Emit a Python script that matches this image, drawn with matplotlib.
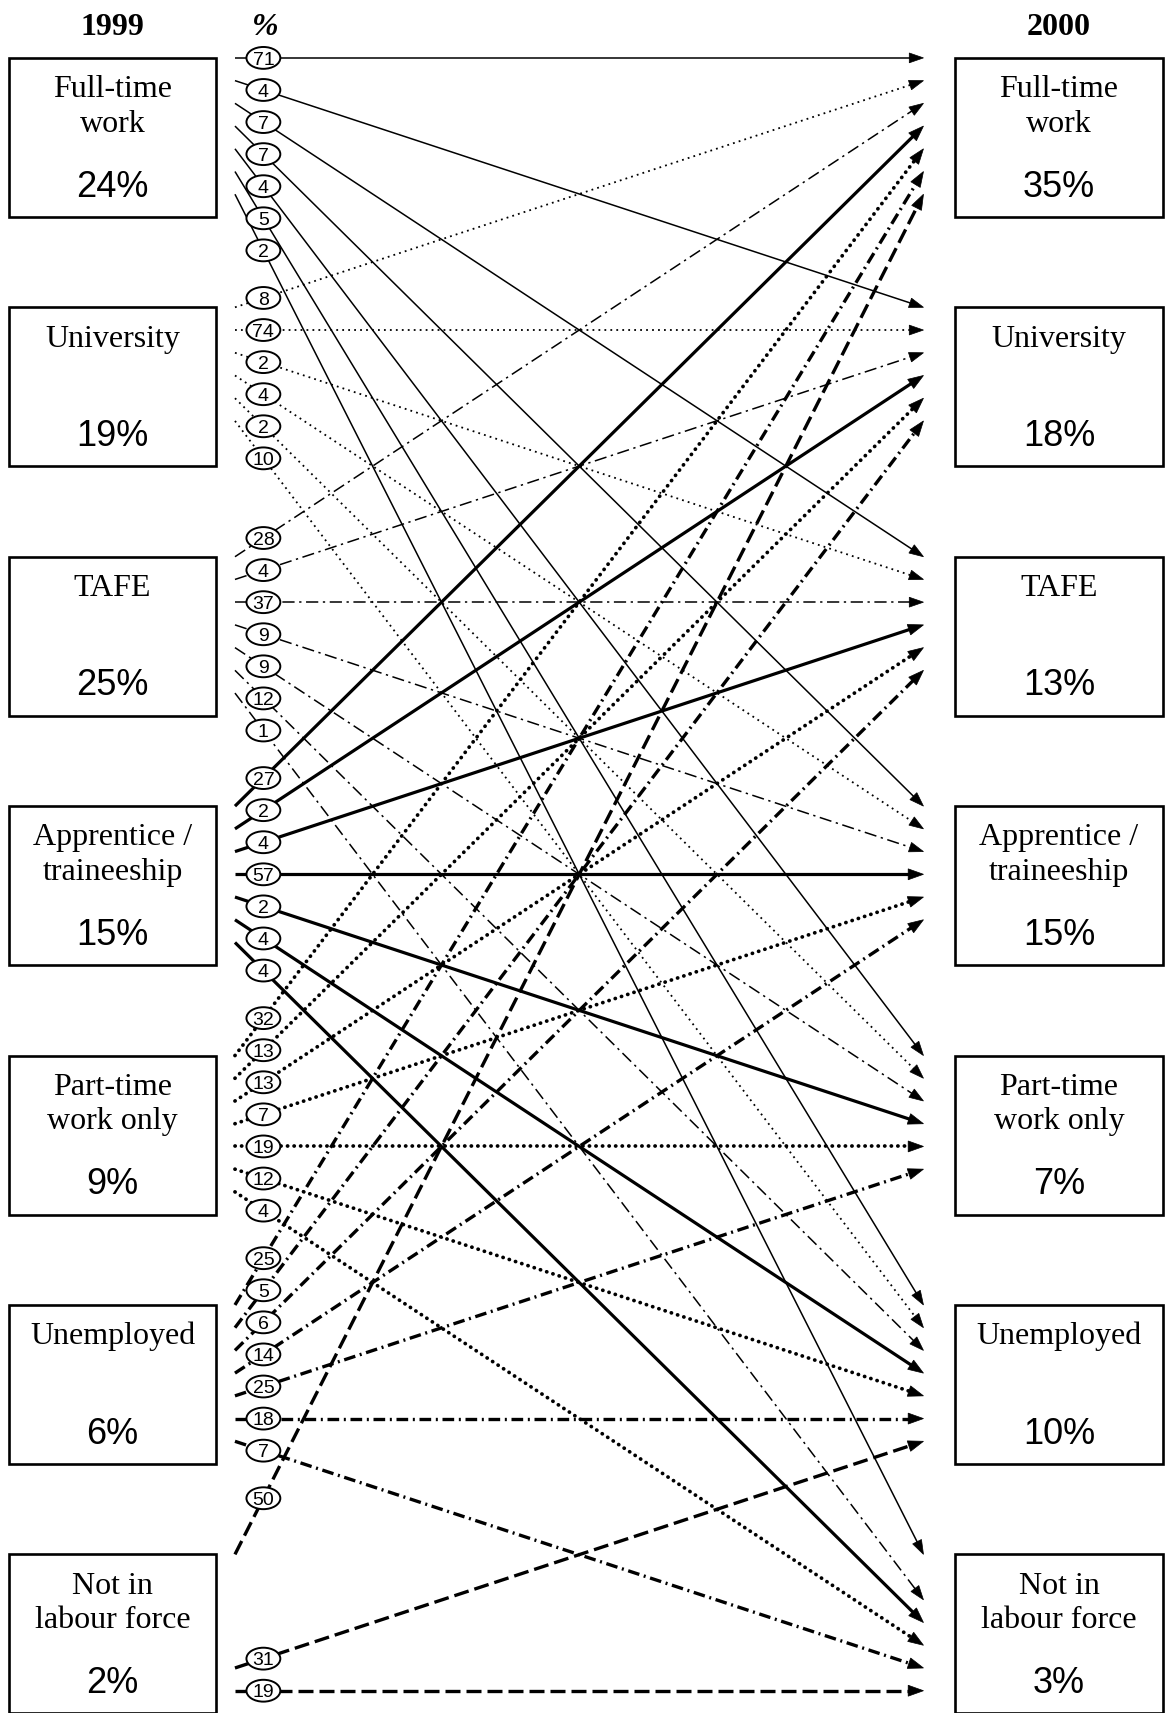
import numpy as np
import matplotlib
matplotlib.use('Agg')
import matplotlib.pyplot as plt
from matplotlib.patches import Rectangle, Ellipse, Polygon

# 1999 -> 2000 destinations of young people
names = [['Full-time', 'work'], ['University'], ['TAFE'],
         ['Apprentice /', 'traineeship'], ['Part-time', 'work only'],
         ['Unemployed'], ['Not in', 'labour force']]
share_1999 = [24, 19, 25, 15, 9, 6, 2]
share_2000 = [35, 18, 13, 15, 7, 10, 3]
# flows[i][j] = % of 1999 group i found in 2000 group j (None = no arrow)
flows = [
    [71, 4, 7, 7, 4, 5, 2],
    [8, 74, 2, 4, 2, 10, None],
    [28, 4, 37, 9, 9, 12, 1],
    [27, 2, 4, 57, 2, 4, 4],
    [32, 13, 13, 7, 19, 12, 4],
    [25, 5, 6, 14, 25, 18, 7],
    [50, None, None, None, None, 31, 19],
]

# line style of each 1999 group
styles = [
    dict(lw=1.1, ls='-'),
    dict(lw=1.3, ls=(0, (1, 2.3))),
    dict(lw=1.1, ls=(0, (8, 3, 1.5, 3))),
    dict(lw=2.3, ls='-'),
    dict(lw=2.7, ls=(0, (0.05, 1.7))),
    dict(lw=2.4, ls=(0, (3.5, 1.4, 0.6, 1.4))),
    dict(lw=2.4, ls=(0, (4.5, 1.8))),
]

W, H = 1066, 1568
top0, pitch, box_h, slot = 53, 228.3, 145.5, 20.8
x_start, x_tip, x_lab = 215, 845, 241
serif = 'Liberation Serif'
sans = 'Liberation Sans'

fig = plt.figure(figsize=(11.65, 17.13), dpi=100)
ax = fig.add_axes([0, 0, 1, 1])
ax.set_xlim(0, W)
ax.set_ylim(H, 0)
ax.axis('off')

ax.text(103, 32, '1999', ha='center', va='baseline', fontsize=23,
        fontweight='bold', family=serif)
ax.text(969, 32, '2000', ha='center', va='baseline', fontsize=23,
        fontweight='bold', family=serif)
ax.text(243, 32, '%', ha='center', va='baseline', fontsize=23,
        fontweight='bold', fontstyle='italic', family=serif)


def draw_box(x0, top, lines, pct):
    ax.add_patch(Rectangle((x0, top), 190, box_h, fill=False, lw=1.9,
                           ec='black', zorder=3))
    cx = x0 + 95
    for k, s in enumerate(lines):
        ax.text(cx, top + 36 + 31.5 * k, s, ha='center', va='baseline',
                fontsize=23, family=serif)
    ax.text(cx, top + 127, '%d%%' % pct, ha='center', va='baseline',
            fontsize=26, family=sans)


for i in range(7):
    top = top0 + i * pitch
    draw_box(8, top, names[i], share_1999[i])
    draw_box(874, top, names[i], share_2000[i])

for i, row in enumerate(flows):
    st = styles[i]
    for j, val in enumerate(row):
        if val is None:
            continue
        y0 = top0 + i * pitch + j * slot
        y1 = top0 + j * pitch + i * slot
        p0 = np.array([x_start, y0])
        p1 = np.array([x_tip, y1])
        u = (p1 - p0) / np.hypot(*(p1 - p0))
        n = np.array([-u[1], u[0]])
        L = 14 if st['lw'] > 2 else 13
        hw = 5 if st['lw'] > 2 else 4.5
        base = p1 - L * u
        ax.plot([p0[0], base[0] + u[0]], [p0[1], base[1] + u[1]],
                color='black', lw=st['lw'], linestyle=st['ls'],
                dash_capstyle='round' if i == 4 else 'butt',
                solid_capstyle='butt', zorder=2)
        ax.add_patch(Polygon([p1, base + hw * n, base - hw * n],
                             closed=True, fc='black', ec='black', lw=0.5,
                             zorder=2))
        yl = y0 + (y1 - y0) * (x_lab - x_start) / (x_tip - x_start)
        ax.add_patch(Ellipse((x_lab, yl), 31, 20, fc='white', ec='black',
                             lw=1.4, zorder=5))
        ax.text(x_lab, yl + 6.2, str(val), ha='center', va='baseline',
                fontsize=14, family=sans, zorder=6)

fig.savefig('out.png', dpi=100, facecolor='white')
